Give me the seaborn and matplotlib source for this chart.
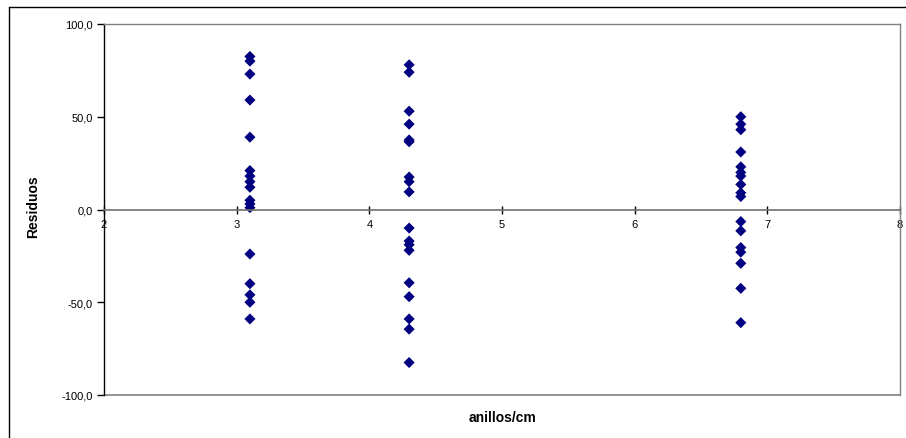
import matplotlib
matplotlib.use("Agg")
import matplotlib.pyplot as plt
from matplotlib.lines import Line2D
from matplotlib.ticker import FuncFormatter
import seaborn as sns
import pandas as pd

# Data
x_col1 = 3.1
res_col1 = [82.5, 80, 73, 59, 39, 21, 18, 15, 12, 5, 3, 1,
            -24, -40, -46, -50, -59]
x_col2 = 4.3
res_col2 = [78, 74, 53, 46, 37.5, 36.5, 17.5, 15, 9.5,
            -10, -17, -19, -22, -39.5, -47, -59, -64.5, -82.5]
x_col3 = 6.8
res_col3 = [50, 46, 43, 31, 23, 20, 18, 13.5, 9, 7,
            -6.5, -11.5, -20.5, -23, -29, -42.5, -61]

x_ticks = [2, 3, 4, 5, 6, 7, 8]
y_ticks = [-100, -50, 0, 50, 100]
x_label = "anillos/cm"
y_label = "Residuos"

df = pd.DataFrame({
    "anillos": [x_col1] * len(res_col1) + [x_col2] * len(res_col2) + [x_col3] * len(res_col3),
    "residuo": res_col1 + res_col2 + res_col3,
})

sns.set_theme(style="white")
plt.rcParams["font.family"] = ["Liberation Sans", "DejaVu Sans"]

W, H = 906, 439
fig = plt.figure(figsize=(W / 100, H / 100), dpi=100)
left, right, top, bottom = 104, 900, 25, 396
ax = fig.add_axes([left / W, 1 - bottom / H, (right - left) / W, (bottom - top) / H])

sns.scatterplot(data=df, x="anillos", y="residuo", ax=ax, marker="D",
                color="#000080", edgecolor="none", s=32, legend=False)

ax.set_xlim(2, 8)
ax.set_ylim(-100, 100)
ax.set_xticks(x_ticks)
ax.set_yticks(y_ticks)
ax.yaxis.set_major_formatter(FuncFormatter(lambda v, p: f"{v:.1f}".replace(".", ",")))

# axes lines
ax.spines["bottom"].set_position(("data", 0))
ax.spines["bottom"].set_color("#707070")
ax.spines["bottom"].set_linewidth(1.2)
ax.spines["left"].set_color("black")
ax.spines["left"].set_linewidth(1.0)
ax.spines["top"].set_color("#808080")
ax.spines["top"].set_linewidth(1.0)
ax.spines["right"].set_color("#808080")
ax.spines["right"].set_linewidth(1.0)
# plot-area bottom frame
ax.add_line(Line2D([0, 1], [0, 0], transform=ax.transAxes, color="#808080",
                   lw=1.2, clip_on=False))

ax.tick_params(axis="x", direction="inout", length=6, width=1, color="black",
               labelsize=8, pad=4, bottom=True, labelcolor="black")
ax.tick_params(axis="y", direction="out", length=5, width=1, color="black",
               labelsize=8, pad=3, left=True, labelcolor="black")

ax.set_xlabel("")
ax.set_ylabel("")
fig.text(503 / W, 1 - 418 / H, x_label, ha="center", va="center",
         fontsize=10, fontweight="bold", color="black")
fig.text(33 / W, 1 - 207 / H, y_label, ha="center", va="center",
         rotation=90, fontsize=10, fontweight="bold", color="black")

# outer chart border (left and top visible)
fig.add_artist(Line2D([9 / W, 9 / W], [0, 1 - 8 / H], transform=fig.transFigure,
                      color="black", lw=1))
fig.add_artist(Line2D([9 / W, 1], [1 - 8 / H, 1 - 8 / H], transform=fig.transFigure,
                      color="black", lw=1))

fig.savefig("out.png", dpi=100, facecolor="white")
